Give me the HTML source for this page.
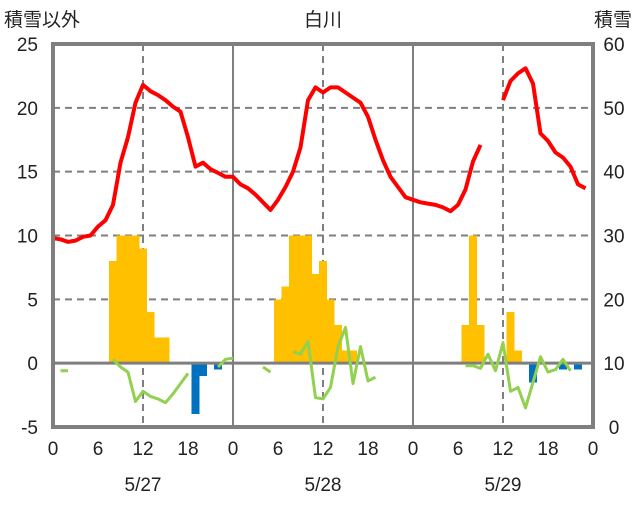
<!DOCTYPE html>
<html><head><meta charset="utf-8"><style>
body{margin:0;background:#fff;}
svg text{font-family:"Liberation Sans","Noto Sans CJK JP",sans-serif;fill:#222;}
</style></head><body>
<svg id="chart" width="636" height="501" xmlns="http://www.w3.org/2000/svg"></svg>
<script>
const leftTicks=[25,20,15,10,5,0,-5];
const rightTicks=[60,50,40,30,20,10,0];
const hourTicks=["0","6","12","18","0","6","12","18","0","6","12","18","0"];
const dates=["5/27","5/28","5/29"];
const redVals=[9.8,9.7,9.5,9.6,9.9,10.0,10.7,11.2,12.4,15.7,17.7,20.4,21.8,21.3,21.0,20.6,20.1,19.7,17.7,15.4,15.7,15.2,14.9,14.6,
14.6,14.0,13.7,13.2,12.6,12.0,12.8,13.8,15.0,16.9,20.6,21.6,21.2,21.6,21.6,21.2,20.8,20.4,19.3,17.5,15.9,14.6,13.8,13.0,
12.8,12.6,12.5,12.4,12.2,11.9,12.4,13.6,15.8,17.1,null,null,20.6,22.1,22.7,23.1,21.9,18.0,17.4,16.5,16.1,15.4,14.0,13.7];
const greenVals=[null,-0.6,-0.6,null,null,null,null,null,0.3,-0.3,-0.7,-3.0,-2.2,-2.6,-2.8,-3.1,-2.4,-1.6,-0.8,null,null,null,-0.3,0.3,
0.4,null,null,null,-0.3,-0.7,null,null,0.9,0.7,1.7,-2.7,-2.8,-1.9,1.3,2.8,-1.6,1.3,-1.4,-1.1,null,null,null,null,
null,null,null,null,null,null,null,-0.2,-0.2,-0.4,0.7,-0.6,1.6,-2.2,-1.9,-3.5,-1.5,0.5,-0.7,-0.5,0.3,-0.6,null,null];
const barHours=[8,9,10,11,12,13,14,15,19,20,22,30,31,32,33,34,35,36,37,38,39,40,55,56,57,61,62,64,68,70];
const barVals=[8,10,10,10,9,4,2,2,-4,-1,-0.5,5,6,10,10,10,7,8,5,3,1,1,3,10,3,4,1,-1.5,-0.5,-0.5];

const NS="http://www.w3.org/2000/svg";
const svg=document.getElementById('chart');
const X0=53,X1=593,Y0=44,Y1=427;
const x=h=>X0+(X1-X0)*h/72;
const y=v=>Y0+(Y1-Y0)*(25-v)/30;
const yr=v=>Y0+(Y1-Y0)*(60-v)/60;
function el(tag,attrs,parent){const e=document.createElementNS(NS,tag);for(const k in attrs)e.setAttribute(k,attrs[k]);(parent||svg).appendChild(e);return e;}

leftTicks.forEach(t=>{if(t===25||t===-5||t===0)return;
 const g=el('line',{x1:X0,x2:X1,y1:y(t),y2:y(t),stroke:'#7f7f7f','stroke-width':2,'stroke-dasharray':'7,5'});
 
 });
[12,36,60].forEach(h=>{const g=el('line',{x1:x(h),x2:x(h),y1:Y0,y2:Y1,stroke:'#7f7f7f','stroke-width':2,'stroke-dasharray':'7,5'});
 
 });
[24,48].forEach(h=>{const g=el('line',{x1:x(h),x2:x(h),y1:Y0,y2:Y1,stroke:'#7f7f7f','stroke-width':2});
 
 });

barHours.forEach((h,i)=>{const v=barVals[i];
 const r=el('rect',{x:x(h)-4,width:8,y:Math.min(y(v),y(0)),height:Math.abs(y(v)-y(0)),fill:v>=0?'#ffc000':'#0070c0','shape-rendering':'crispEdges'});
 
 });

const z=el('line',{x1:X0,x2:X1,y1:y(0),y2:y(0),stroke:'#7f7f7f','stroke-width':3});



function linePath(vals){let d='',pen=false;vals.forEach((v,i)=>{if(v===null){pen=false;return;}d+=(pen?'L':'M')+x(i).toFixed(1)+','+y(v).toFixed(1);pen=true;});return d;}
const gl=el('path',{d:linePath(greenVals),fill:'none',stroke:'#92d050','stroke-width':3,'stroke-linejoin':'round'});


const rl=el('path',{d:linePath(redVals),fill:'none',stroke:'#ff0000','stroke-width':4,'stroke-linejoin':'round'});



const fr=el('rect',{x:X0,y:Y0,width:X1-X0,height:Y1-Y0,fill:'none',stroke:'#7f7f7f','stroke-width':4});



leftTicks.forEach(t=>{const e=el('text',{x:38,y:y(t)+7,'text-anchor':'end','font-size':19});e.textContent=t;
 
 });
rightTicks.forEach(t=>{const e=el('text',{x:614,y:yr(t)+7,'text-anchor':'middle','font-size':19});e.textContent=t;
 
 });
hourTicks.forEach((t,i)=>{const e=el('text',{x:x(i*6),y:455,'text-anchor':'middle','font-size':19});e.textContent=t;
 
 });
dates.forEach((t,i)=>{const e=el('text',{x:x(12+24*i),y:491,'text-anchor':'middle','font-size':19});e.textContent=t;
 
 });
</script>
<svg style="position:absolute;left:0;top:0" width="636" height="501">
<text x="323" y="26" text-anchor="middle" font-size="19">白川</text>
<text x="4" y="26" font-size="19">積雪以外</text>
<text x="632" y="26" text-anchor="end" font-size="19">積雪</text>
</svg>
</body></html>
